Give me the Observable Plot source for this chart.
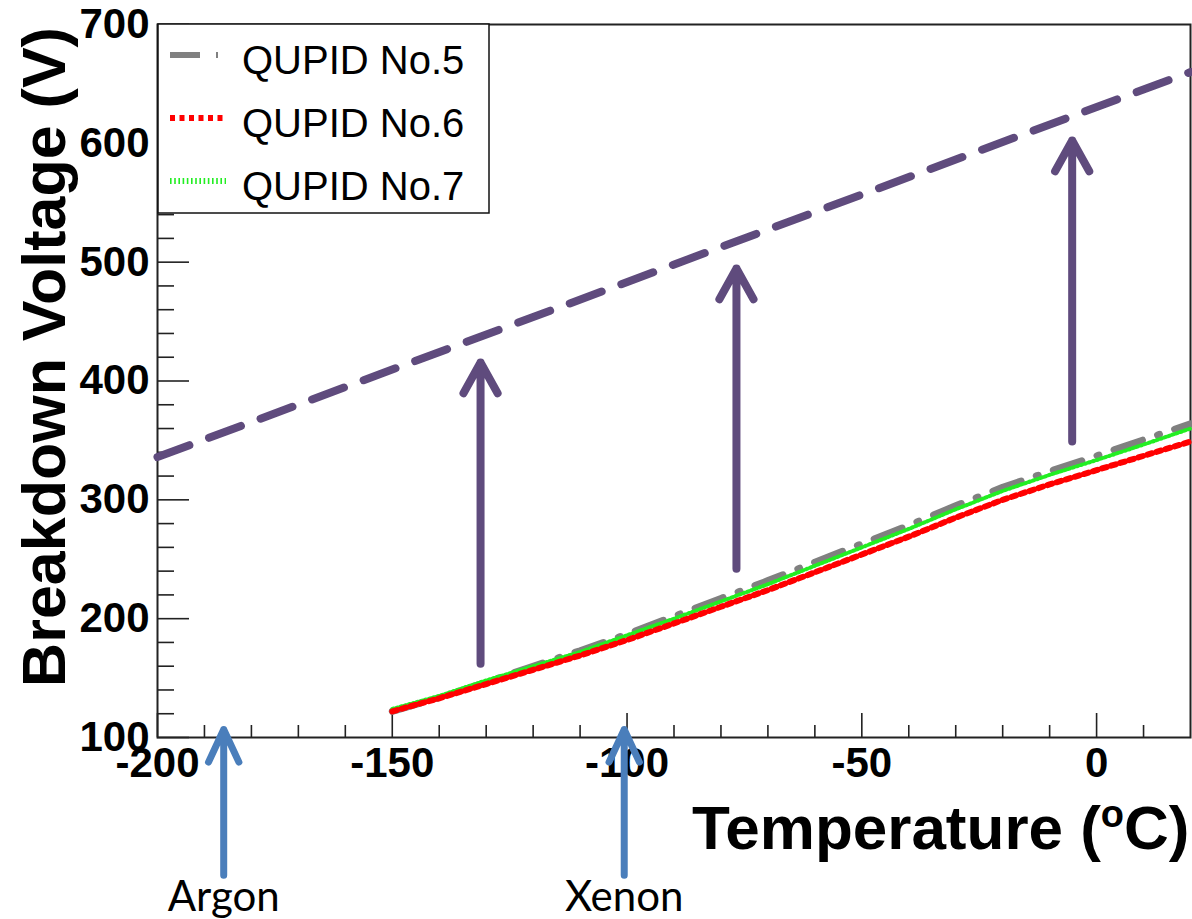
<!DOCTYPE html>
<html><head><meta charset="utf-8">
<script src="https://cdn.jsdelivr.net/npm/d3@7"></script>
<script src="https://cdn.jsdelivr.net/npm/@observablehq/plot@0.6"></script>
<style>html,body{margin:0;padding:0;background:#fff;}</style>
</head><body><div id="chart"></div>
<script>
// ---- data ----
const temperatures = [-150,-140,-130,-120,-110,-100,-90,-80,-70,-60,-50,-40,-30,-20,-10,0,10,20];
const qupid5 = [122,133.5,146.5,160,173,187,202,217,232,247.5,263,278.5,295,310.5,324,337,350.5,364];
const qupid6 = [122,133,145,157,169,182,196,210,224,239,254,269,285,300,313,325,337,349];
const qupid7 = [124,135,148,160,172,186,200,214.5,229,244.5,260,275.5,292,307.5,321,333.5,346.5,360];
const seriesNames = ["QUPID No.5", "QUPID No.6", "QUPID No.7"];
const scaledTemps = [-200, 20];
const scaledVoltage = [336, 660];
const shiftArrowTemps = [-131.2, -76.7, -5.2];
const shiftArrowFrom = [162, 242, 349];
const shiftArrowTo = [415.6, 494.7, 602.4];
const gasNames = ["Argon", "Xenon"];
const gasTemps = [-185.9, -100.6];
const gasArrowFrom = [-16, -16];
const gasArrowTo = [106.7, 106.7];
const xTicks = [-200, -150, -100, -50, 0];
const yTicks = [100, 200, 300, 400, 500, 600, 700];
const xMinor = [-190,-180,-170,-160,-140,-130,-120,-110,-90,-80,-70,-60,-40,-30,-20,-10,10];
const yMinor = [120,140,160,180,220,240,260,280,320,340,360,380,420,440,460,480,520,540,560,580,620,640,660,680];
const xTitle = "Temperature (oC)";
const yTitle = "Breakdown Voltage (V)";

// ---- styling ----
const W = 1192, H = 919, ML = 157, MR = 2, MT = 24, MB = 182;
const PW = W - ML - MR, PH = H - MT - MB;
const purple = "#5f4b7d", blue = "#4a7ebb";
const seriesStyles = [
  {stroke: "#808080", strokeWidth: 7, dash: "30,16,2,16", lw: 6},
  {stroke: "#ff0000", strokeWidth: 6, dash: "5,4.5", lw: 6},
  {stroke: "#22ee22", strokeWidth: 4, dash: "1.6,2.6", lw: 6}
];
const drawOrder = [0, 2, 1];
const seriesValues = [qupid5, qupid6, qupid7];
const rows = [];
seriesValues.forEach((vals, s) => temperatures.forEach((t, i) => rows.push({s, t, v: vals[i]})));
const scaled = scaledTemps.map((t, i) => ({t, v: scaledVoltage[i]}));
const shiftIdx = shiftArrowTemps.map((_, i) => i);
const gasIdx = gasTemps.map((_, i) => i);
const fontMain = "'Liberation Sans', Arial, Helvetica, sans-serif";

const chart = Plot.plot({
  width: W, height: H,
  marginLeft: ML, marginRight: MR, marginTop: MT, marginBottom: MB,
  style: {fontFamily: fontMain, background: "white", color: "black"},
  x: {domain: [-200, 20]},
  y: {domain: [100, 700]},
  marks: [
    Plot.tickY(yTicks, {y: d => d, stroke: "#222", strokeWidth: 1.6, insetRight: PW - 32}),
    Plot.tickY(yMinor, {y: d => d, stroke: "#222", strokeWidth: 1.6, insetRight: PW - 17}),
    Plot.tickX(xTicks, {x: d => d, stroke: "#222", strokeWidth: 1.6, insetTop: PH - 24}),
    Plot.tickX(xMinor, {x: d => d, stroke: "#222", strokeWidth: 1.6, insetTop: PH - 12}),
    Plot.frame({stroke: "#222", strokeWidth: 2}),
    Plot.line(scaled, {x: "t", y: "v", stroke: purple, strokeWidth: 8, strokeDasharray: "34,21"}),
    ...drawOrder.map(s => Plot.line(rows.filter(r => r.s === s), {
      x: "t", y: "v", stroke: seriesStyles[s].stroke, strokeWidth: seriesStyles[s].strokeWidth,
      strokeDasharray: seriesStyles[s].dash
    })),
    Plot.arrow(shiftIdx, {
      x: i => shiftArrowTemps[i], y1: i => shiftArrowFrom[i], y2: i => shiftArrowTo[i],
      stroke: purple, strokeWidth: 8, headLength: 6.6, headAngle: 58
    }),
    Plot.axisX({ticks: xTicks, tickSize: 0, tickPadding: 10, fontSize: 42, fontWeight: "bold",
      tickFormat: d => String(d), label: null}),
    Plot.axisY({ticks: yTicks, tickSize: 0, tickPadding: 8, fontSize: 42, fontWeight: "bold",
      tickFormat: d => String(d), label: null}),
    Plot.text([xTitle], {text: d => d, frameAnchor: "bottom-right", textAnchor: "end", lineAnchor: "bottom",
      dx: -1, dy: 111, fontSize: 62, fontWeight: "bold"}),
    Plot.text([yTitle], {text: d => d, frameAnchor: "left", textAnchor: "middle", lineAnchor: "bottom",
      rotate: -90, dx: -93, dy: -24, fontSize: 61, fontWeight: "bold"}),
    Plot.arrow(gasIdx, {
      x: i => gasTemps[i], y1: i => gasArrowFrom[i], y2: i => gasArrowTo[i],
      stroke: blue, strokeWidth: 7, headLength: 7.7, headAngle: 50
    }),
    Plot.text(gasIdx, {x: i => gasTemps[i], text: i => gasNames[i], frameAnchor: "bottom",
      lineAnchor: "bottom", dy: 173, fontSize: 42, fontFamily: "Lato, 'Open Sans', sans-serif", fill: "black"})
  ]
});
document.getElementById("chart").appendChild(chart);

// superscript "o" in the x title
const svg = d3.select(chart);
svg.selectAll("text").filter(function () { return this.textContent === xTitle; }).each(function () {
  const t = d3.select(this);
  t.text(null);
  t.append("tspan").text("Temperature (");
  t.append("tspan").attr("font-size", "38").attr("dy", "-22").text("o");
  t.append("tspan").attr("dy", "22").text("C)");
});

// legend box inside the frame (top-left)
const lg = svg.append("g");
lg.append("rect").attr("x", 158).attr("y", 24).attr("width", 331).attr("height", 189)
  .attr("fill", "white").attr("stroke", "#111").attr("stroke-width", 1.5);
const rowY = [55, 118, 181];
seriesNames.forEach((name, i) => {
  const st = seriesStyles[i];
  lg.append("line").attr("x1", 170).attr("x2", 226).attr("y1", rowY[i]).attr("y2", rowY[i])
    .attr("stroke", st.stroke).attr("stroke-width", st.lw).attr("stroke-dasharray", st.dash);
  lg.append("text").attr("x", 242).attr("y", rowY[i] + 19).attr("text-anchor", "start")
    .attr("font-family", fontMain).attr("font-size", 40).attr("fill", "black").text(name);
});
</script>
</body></html>
